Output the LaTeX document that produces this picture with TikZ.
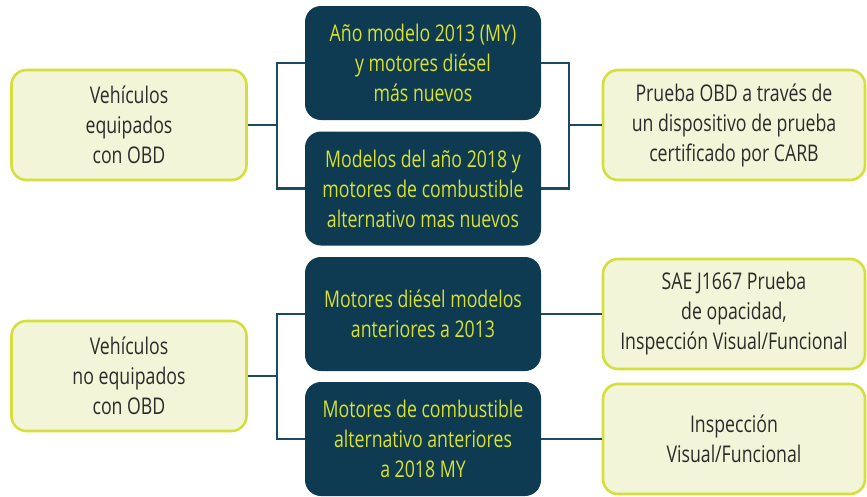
\documentclass[tikz,border=0pt]{standalone}
\usepackage{fontspec}
\setmainfont{Open Sans}[FakeStretch=0.77]
\definecolor{darkBox}{HTML}{0E3B52}
\definecolor{limeText}{HTML}{D9E132}
\definecolor{lightFill}{HTML}{F2F5D8}
\definecolor{lightEdge}{HTML}{D5DE3C}
\definecolor{connColor}{HTML}{1B4A63}
\definecolor{grayText}{HTML}{2B2B2B}
\tikzset{
	darkNode/.style={rectangle, fill=darkBox, text=limeText, minimum width=236pt, minimum height=114pt, rounded corners=16pt, align=center, font=\fontsize{23}{30}\selectfont},
	lightNode/.style={rectangle, draw=lightEdge, line width=2.6pt, fill=lightFill, text=grayText, minimum height=110pt, rounded corners=15pt, align=center, font=\fontsize{23}{30}\selectfont},
	conn/.style={draw=connColor, line width=2.4pt}
}
\begin{document}
\begin{tikzpicture}[x=1pt, y=-1pt]
\useasboundingbox (0,0) rectangle (867,496);
\begin{scope}
\clip (0,0) rectangle (867,496);
	\node[lightNode, minimum width=235pt](veh1Box) at (129,125){Vehículos\\equipados\\con OBD};
	\node[lightNode, minimum width=235pt](veh2Box) at (129,376){Vehículos\\no equipados\\con OBD};

	\node[darkNode](diesel1Box) at (423,63){Año modelo 2013 (MY)\\y motores diésel\\más nuevos};
	\node[darkNode](alt1Box) at (423,188.5){Modelos del año 2018 y\\motores de combustible\\alternativo mas nuevos};
	\node[darkNode](diesel2Box) at (423,314){Motores diésel modelos\\anteriores a 2013};
	\node[darkNode](alt2Box) at (423,439){Motores de combustible\\alternativo anteriores\\a 2018 MY};

	\node[lightNode, minimum width=262pt](obdTest) at (734,125){Prueba OBD a través de\\un dispositivo de prueba\\certificado por CARB};
	\node[lightNode, minimum width=262pt](opacTest) at (734,314){SAE J1667 Prueba\\de opacidad,\\Inspección Visual/Funcional};
	\node[lightNode, minimum width=262pt](visTest) at (734,439){Inspección\\Visual/Funcional};
\end{scope}

	\coordinate(split1) at (277,125);
	\coordinate(split2) at (277,376);
	\coordinate(merge1) at (569,125);

	\draw[conn] (veh1Box.east) -- (split1);
	\draw[conn] (diesel1Box.west) -| (split1) |- (alt1Box.west);
	\draw[conn] (veh2Box.east) -- (split2);
	\draw[conn] (diesel2Box.west) -| (split2) |- (alt2Box.west);

	\draw[conn] (diesel1Box.east) -| (merge1) |- (alt1Box.east);
	\draw[conn] (merge1) -- (obdTest.west);
	\draw[conn] (diesel2Box.east) -- (opacTest.west);
	\draw[conn] (alt2Box.east) -- (visTest.west);
\end{tikzpicture}
\end{document}
